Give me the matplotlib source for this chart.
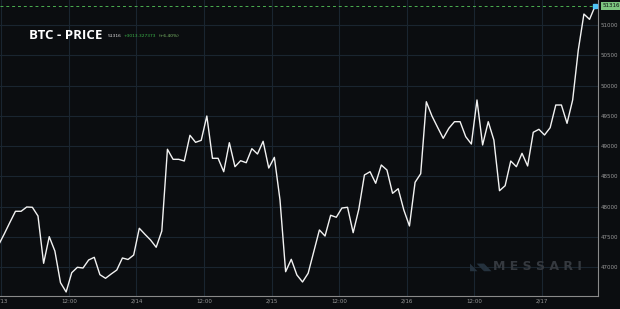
import numpy as np
import pandas as pd
import matplotlib
matplotlib.use("Agg")
import matplotlib.pyplot as plt
import matplotlib.dates as mdates

# Prix BTC horaires, à partir du 12/02 23:30
start = "2021-02-12 23:30"
prices = [
    47364, 47545, 47736, 47921, 47921, 47992, 47987, 47843, 47061, 47501,
    47264, 46740, 46587, 46906, 46995, 46983, 47116, 47160, 46873, 46813,
    46884, 46950, 47149, 47124, 47198, 47640, 47541, 47446, 47326, 47595,
    48946, 48780, 48780, 48752, 49177, 49061, 49094, 49496, 48797, 48797,
    48575, 49055, 48658, 48757, 48724, 48956, 48868, 49078, 48636, 48813,
    48108, 46922, 47127, 46868, 46752, 46896, 47253, 47612, 47512, 47855,
    47822, 47975, 47987, 47567, 47954, 48521, 48575, 48384, 48686, 48603,
    48218, 48294, 47942, 47678, 48400, 48542, 49732, 49496, 49309, 49127,
    49293, 49402, 49402, 49154, 49033, 49761, 49017, 49402, 49099, 48261,
    48344, 48752, 48658, 48879, 48670, 49227, 49276, 49182, 49303, 49678,
    49678, 49375, 49761, 50587, 51182, 51094, 51316,
]
last_label = "51316.44"
y_ticks = [47000, 47500, 48000, 48500, 49000, 49500, 50000, 50500, 51000]

times = pd.date_range(start, periods=len(prices), freq="h")

bg = "#0b0d10"
grid = "#1a2530"

fig = plt.figure(figsize=(6.2, 3.09), dpi=100, facecolor=bg)
ax = fig.add_axes([0, 0.042, 0.9645, 0.958], facecolor=bg)

ax.plot(times, prices, color="#f2f2f2", lw=1.0, zorder=3)

# ligne du dernier prix
ax.axhline(prices[-1], color="#4caf50", lw=0.7, ls=(0, (3, 3)), zorder=2)
ax.plot(times[-1], prices[-1], marker="s", ms=3, color="#4fc3f7", zorder=4, clip_on=False)

ax.set_xlim(pd.Timestamp("2021-02-12 23:45"), pd.Timestamp("2021-02-17 10:00"))
ax.set_ylim(46520, 51414)

ax.yaxis.tick_right()
ax.set_yticks(y_ticks)
ax.set_yticklabels([str(v) for v in y_ticks])
ax.xaxis.set_major_locator(mdates.HourLocator(byhour=[0, 12]))


def fmt(x, pos):
    d = mdates.num2date(x)
    return "12:00" if d.hour == 12 else f"{d.month}/{d.day}"


ax.xaxis.set_major_formatter(plt.FuncFormatter(fmt))
ax.tick_params(colors="#9a9a9a", labelsize=4, length=0, pad=2)
ax.grid(True, color=grid, lw=0.8)

for s in ["top", "left"]:
    ax.spines[s].set_visible(False)
for s in ["bottom", "right"]:
    ax.spines[s].set_color("#8a8a8a")
    ax.spines[s].set_linewidth(0.8)

# étiquette du prix
ax.annotate(last_label, xy=(1.0, prices[-1]), xycoords=("axes fraction", "data"),
            xytext=(3, 0), textcoords="offset points", fontsize=4, color="#0b0d10",
            va="center", ha="left", annotation_clip=False,
            bbox=dict(boxstyle="square,pad=0.25", fc="#7cc47f", ec="none"))

# titre
t = fig.text(0.047, 0.885, "BTC - PRICE", color="white", fontsize=9.5, fontweight="bold",
             va="center", family="Open Sans")
t1 = ax.annotate("51316", xy=(1, 0.5), xycoords=t, xytext=(4, 0), textcoords="offset points",
                 color="#dddddd", fontsize=3.2, va="center")
t2 = ax.annotate("+3013.327373", xy=(1, 0.5), xycoords=t1, xytext=(1.5, 0),
                 textcoords="offset points", color="#3bb54a", fontsize=3.2, va="center")
ax.annotate("(+6.40%)", xy=(1, 0.5), xycoords=t2, xytext=(1.5, 0),
            textcoords="offset points", color="#7fbf6a", fontsize=3.2, va="center")

# filigrane
fig.text(0.776, 0.137, "◣◥◣", color="#25323e", fontsize=7, va="center", ha="center")
fig.text(0.867, 0.137, "M E S S A R I", color="#35393f", fontsize=9, fontweight="bold",
         va="center", ha="center")

fig.savefig("out.png", dpi=100, facecolor=bg)
